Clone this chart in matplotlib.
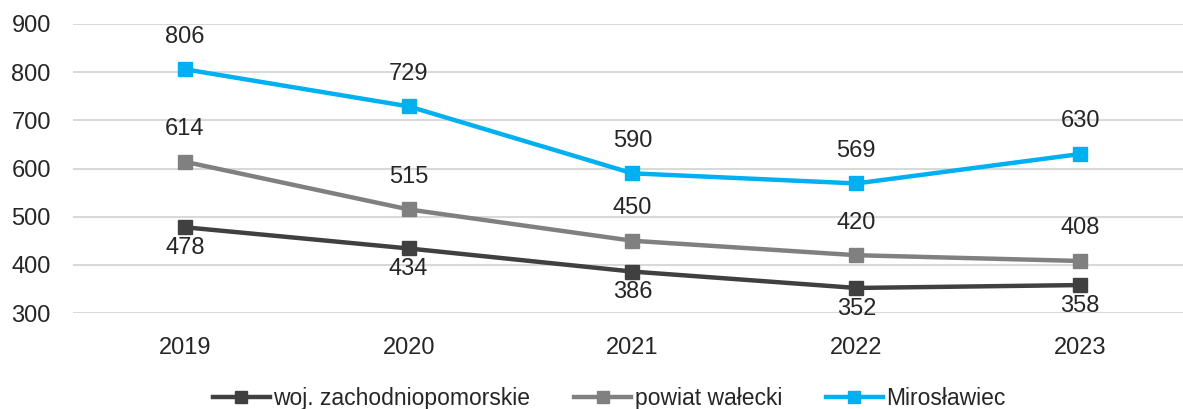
import matplotlib
matplotlib.use("Agg")
import matplotlib.pyplot as plt

# Years on the x axis and the three series
years = ["2019", "2020", "2021", "2022", "2023"]
woj = [478, 434, 386, 352, 358]
powiat = [614, 515, 450, 420, 408]
miroslawiec = [806, 729, 590, 569, 630]

plt.rcParams["font.family"] = ["Liberation Sans", "DejaVu Sans"]

fig = plt.figure(figsize=(11.83, 4.09), dpi=100)
ax = fig.add_axes([73 / 1183, 1 - 313 / 409, (1183 - 73) / 1183, (313 - 24) / 409])

x = list(range(len(years)))

# series: (values, colour, label, label above the point?)
series = [
    (woj, "#404040", "woj. zachodniopomorskie", False),
    (powiat, "#808080", "powiat wałecki", True),
    (miroslawiec, "#00B0F0", "Mirosławiec", True),
]

for vals, color, name, above in series:
    ax.plot(x, vals, color=color, lw=3.2, marker="s", markersize=10,
            label=name, zorder=3)
    for xi, v in zip(x, vals):
        ax.annotate(str(v), (xi, v), xytext=(0, 23.5 if above else -15),
                    textcoords="offset points", ha="center", va="center",
                    fontsize=17, color="#262626")

ax.set_xlim(-0.5, 4.46)
ax.set_ylim(300, 900)
ax.set_yticks(range(300, 1000, 100))
ax.set_xticks(x)
ax.set_xticklabels(years)
ax.tick_params(length=0, labelsize=17, labelcolor="#262626")
ax.tick_params(axis="y", pad=16)
ax.tick_params(axis="x", pad=17)
ax.grid(axis="y", color="#d9d9d9", lw=1.5, zorder=0)
ax.set_axisbelow(True)
for s in ax.spines.values():
    s.set_visible(False)

fig.legend(loc="lower center", bbox_to_anchor=(0.515, -0.054), ncol=3,
           frameon=False, fontsize=16.5, handlelength=2.5, handletextpad=0.15,
           columnspacing=1.9, labelcolor="#262626", markerscale=0.85)

plt.savefig("out.png", dpi=100)
